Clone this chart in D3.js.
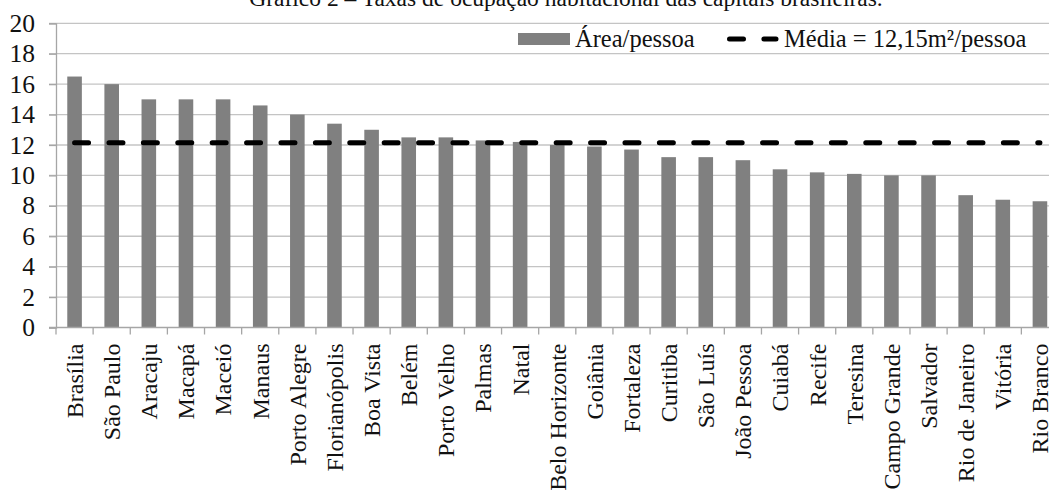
<!DOCTYPE html>
<html>
<head>
<meta charset="utf-8">
<script src="https://cdn.jsdelivr.net/npm/d3@7"></script>
<style>
  html, body { margin: 0; padding: 0; background: #fff; }
  svg text { font-family: "Liberation Serif", "Times New Roman", Tinos, "DejaVu Serif", serif !important; }
</style>
</head>
<body>
<svg id="chart" width="1049" height="490"></svg>
<script>
// Capitais brasileiras, ordenadas pela área por pessoa (m²/pessoa)
const capitais = [
  "Brasília", "São Paulo", "Aracaju", "Macapá", "Maceió", "Manaus",
  "Porto Alegre", "Florianópolis", "Boa Vista", "Belém", "Porto Velho",
  "Palmas", "Natal", "Belo Horizonte", "Goiânia", "Fortaleza", "Curitiba",
  "São Luís", "João Pessoa", "Cuiabá", "Recife", "Teresina", "Campo Grande",
  "Salvador", "Rio de Janeiro", "Vitória", "Rio Branco"
];
const areaPorPessoa = [
  16.5, 16.0, 15.0, 15.0, 15.0, 14.6,
  14.0, 13.4, 13.0, 12.5, 12.5,
  12.3, 12.2, 12.0, 11.9, 11.7, 11.2,
  11.2, 11.0, 10.4, 10.2, 10.1, 10.0,
  10.0, 8.7, 8.4, 8.3
];
const media = 12.15;
const yTicks = [0, 2, 4, 6, 8, 10, 12, 14, 16, 18, 20];

const titulo = "Gráfico 2 – Taxas de ocupação habitacional das capitais brasileiras.";
const legendaBarras = "Área/pessoa";
const legendaMedia = "Média = 12,15m²/pessoa";

const svg = d3.select("#chart");
const plot = { left: 56, right: 1058.5, top: 23.3, bottom: 327.5 };

const xCat = d3.scaleBand().domain(capitais).range([plot.left, plot.right]).padding(0);
const xBar = d3.scaleBand().domain(capitais).range([plot.left, plot.right])
  .paddingInner(0.607).paddingOuter(0.3035);
const y = d3.scaleLinear().domain([0, 20]).range([plot.bottom, plot.top]);

// Title (sits partly above the top edge)
svg.append("text")
  .attr("x", 566).attr("y", 6)
  .attr("text-anchor", "middle")
  .attr("font-size", 23.5)
  .attr("fill", "#111")
  .text(titulo);

// Horizontal gridlines with short outward ticks
svg.append("g").selectAll("line").data(yTicks.filter(d => d > 0)).join("line")
  .attr("x1", plot.left - 7).attr("x2", plot.right)
  .attr("y1", d => y(d)).attr("y2", d => y(d))
  .attr("stroke", "#c4c4c4").attr("stroke-width", 1.3);

// Y axis
const yAxis = svg.append("g")
  .attr("transform", `translate(${plot.left},0)`)
  .call(d3.axisLeft(y).tickValues(yTicks).tickSize(7).tickPadding(14).tickFormat(d3.format("d")));
yAxis.attr("font-family", null);
yAxis.select(".domain").attr("stroke", "#a6a6a6").attr("stroke-width", 1.3);
yAxis.selectAll(".tick line").attr("stroke", "#a6a6a6").attr("stroke-width", 1.3);
yAxis.selectAll(".tick text")
  .attr("font-size", 25.5).attr("fill", "#111");

// Bars
svg.append("g").selectAll("rect").data(capitais).join("rect")
  .attr("x", d => xBar(d))
  .attr("width", xBar.bandwidth())
  .attr("y", (d, i) => y(areaPorPessoa[i]))
  .attr("height", (d, i) => y(0) - y(areaPorPessoa[i]))
  .attr("fill", "#808080");

// X axis: baseline and ticks at category boundaries
const xAxisG = svg.append("g").attr("transform", `translate(0,${plot.bottom})`);
xAxisG.append("line")
  .attr("x1", plot.left - 7).attr("x2", plot.right)
  .attr("stroke", "#a6a6a6").attr("stroke-width", 1.3);
const boundaries = capitais.map(d => xCat(d)).concat([xCat.range()[1]]);
xAxisG.selectAll("line.tk").data(boundaries).join("line")
  .attr("class", "tk")
  .attr("x1", d => d).attr("x2", d => d)
  .attr("y1", 0).attr("y2", 7)
  .attr("stroke", "#a6a6a6").attr("stroke-width", 1.3);

// Rotated category labels
svg.append("g").selectAll("text").data(capitais).join("text")
  .attr("transform", d => `translate(${xCat(d) + xCat.bandwidth() / 2},${plot.bottom + 16}) rotate(-90)`)
  .attr("text-anchor", "end")
  .attr("dy", "0.35em")
  .attr("font-size", 24)
  .attr("fill", "#111")
  .text(d => d);

// Mean line across category centres
const centre = d => xCat(d) + xCat.bandwidth() / 2;
svg.append("line")
  .attr("x1", centre(capitais[0])).attr("x2", centre(capitais[capitais.length - 1]))
  .attr("y1", y(media)).attr("y2", y(media))
  .attr("stroke", "#000").attr("stroke-width", 5)
  .attr("stroke-dasharray", "14,20.4")
  .attr("stroke-linecap", "round");

// Legend
const leg = svg.append("g");
leg.append("rect")
  .attr("x", 518).attr("y", 33).attr("width", 52).attr("height", 12)
  .attr("fill", "#808080");
leg.append("text")
  .attr("x", 575).attr("y", 47)
  .attr("font-size", 24.5).attr("fill", "#111")
  .text(legendaBarras);
leg.append("line")
  .attr("x1", 729.5).attr("x2", 776)
  .attr("y1", 39).attr("y2", 39)
  .attr("stroke", "#000").attr("stroke-width", 5)
  .attr("stroke-dasharray", "14,20.4")
  .attr("stroke-linecap", "round");
leg.append("text")
  .attr("x", 784).attr("y", 47)
  .attr("font-size", 24.5).attr("fill", "#111")
  .text(legendaMedia);
</script>
</body>
</html>
